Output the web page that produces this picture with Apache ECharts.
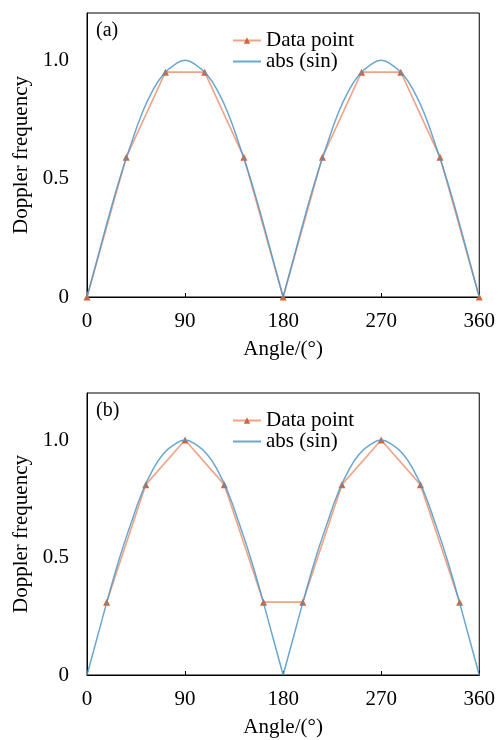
<!DOCTYPE html>
<html>
<head>
<meta charset="utf-8">
<script src="https://cdn.jsdelivr.net/npm/echarts@6/dist/echarts.min.js"></script>
<style>
  html, body { margin: 0; padding: 0; background: #fff; }
  #main { width: 498px; height: 740px; }
</style>
</head>
<body>
<div id="main"></div>
<script>
// 数据 (a) 测点
var angleA = [0, 36, 72, 108, 144, 180, 216, 252, 288, 324, 360];
var valueA = [0, 0.59, 0.95, 0.95, 0.59, 0, 0.59, 0.95, 0.95, 0.59, 0];
// 数据 (b) 测点
var angleB = [18, 54, 90, 126, 162, 198, 234, 270, 306, 342];
var valueB = [0.31, 0.81, 1.0, 0.81, 0.31, 0.31, 0.81, 1.0, 0.81, 0.31];
// abs(sin) 曲线, 每10度读一个值
var curveAngle = [0, 10, 20, 30, 40, 50, 60, 70, 80, 90, 100, 110, 120, 130, 140, 150, 160, 170, 180,
    190, 200, 210, 220, 230, 240, 250, 260, 270, 280, 290, 300, 310, 320, 330, 340, 350, 360];
var curveValue = [0, 0.17, 0.34, 0.5, 0.64, 0.77, 0.87, 0.94, 0.98, 1.0, 0.98, 0.94, 0.87, 0.77, 0.64, 0.5, 0.34, 0.17, 0,
    0.17, 0.34, 0.5, 0.64, 0.77, 0.87, 0.94, 0.98, 1.0, 0.98, 0.94, 0.87, 0.77, 0.64, 0.5, 0.34, 0.17, 0];
var xTicks = [0, 90, 180, 270, 360];

var FONT = "'Liberation Serif', 'Times New Roman', serif";
var orangeLine = '#f2a385';
var orangeMark = '#d4643c';
var blueLine = '#4f96c8';

function pairs(xs, ys) {
    return xs.map(function (x, i) {
        return [x, ys[i]];
    });
}

// 180度处断开, 让两个拱各自平滑, 尖点保持尖
function curvePairs() {
    var out = [];
    curveAngle.forEach(function (x, i) {
        out.push([x, curveValue[i]]);
        if (x === 180) {
            out.push([x, null]);
            out.push([x, curveValue[i]]);
        }
    });
    return out;
}

function makeX(idx) {
    return {
        type: 'value',
        gridIndex: idx,
        min: 0,
        max: 360,
        interval: 90,
        name: 'Angle/(°)',
        nameLocation: 'middle',
        nameGap: 42,
        nameTextStyle: {color: '#000', fontSize: 21, fontFamily: FONT},
        axisLine: {show: true, lineStyle: {color: '#000', width: 1}},
        axisTick: {show: true, inside: true, length: 4, lineStyle: {color: '#000'}},
        axisLabel: {color: '#000', fontSize: 21, fontFamily: FONT, margin: 14},
        splitLine: {show: false}
    };
}

function makeY(idx) {
    return {
        type: 'value',
        gridIndex: idx,
        min: 0,
        max: 1.2,
        interval: 0.5,
        name: 'Doppler frequency',
        nameLocation: 'middle',
        nameGap: 50,
        nameTextStyle: {color: '#000', fontSize: 21, fontFamily: FONT},
        axisLine: {show: true, lineStyle: {color: '#000', width: 1}},
        axisTick: {show: false},
        axisLabel: {
            color: '#000', fontSize: 21, fontFamily: FONT, margin: 18,
            showMaxLabel: false,
            formatter: function (v) {
                return v === 0 ? '0' : v.toFixed(1);
            }
        },
        splitLine: {show: false}
    };
}

function pointSeries(idx, xs, ys) {
    return {
        name: 'Data point',
        type: 'line',
        xAxisIndex: idx,
        yAxisIndex: idx,
        data: pairs(xs, ys),
        symbol: 'triangle',
        symbolSize: 7,
        clip: false,
        lineStyle: {color: orangeLine, width: 1.6},
        itemStyle: {color: orangeMark},
        z: 2
    };
}

function curveSeries(idx) {
    return {
        name: 'abs (sin)',
        type: 'line',
        xAxisIndex: idx,
        yAxisIndex: idx,
        data: curvePairs(),
        connectNulls: false,
        smooth: 0.5,
        showSymbol: false,
        symbol: 'none',
        lineStyle: {color: blueLine, width: 1.5, opacity: 0.85},
        itemStyle: {color: blueLine},
        z: 3
    };
}

function makeLegend(top) {
    return {
        orient: 'vertical',
        left: 232,
        top: top,
        itemWidth: 28,
        itemHeight: 8,
        itemGap: 0,
        padding: 0,
        textStyle: {color: '#000', fontSize: 21, fontFamily: FONT, lineHeight: 21, padding: [0, 0, 0, 0]},
        data: ['Data point', {name: 'abs (sin)', itemStyle: {opacity: 0}}]
    };
}

var chart = echarts.init(document.getElementById('main'));
chart.setOption({
    animation: false,
    backgroundColor: '#fff',
    title: [
        {text: '(a)', left: 96, top: 21, padding: 0, textStyle: {color: '#000', fontSize: 20, fontWeight: 'normal', fontFamily: FONT}},
        {text: '(b)', left: 96, top: 401, padding: 0, textStyle: {color: '#000', fontSize: 20, fontWeight: 'normal', fontFamily: FONT}}
    ],
    legend: [makeLegend(30), makeLegend(410)],
    grid: [
        {left: 87, right: 18, top: 13, height: 284, show: true, borderColor: '#000', borderWidth: 1},
        {left: 87, right: 18, top: 393, height: 282, show: true, borderColor: '#000', borderWidth: 1}
    ],
    xAxis: [makeX(0), makeX(1)],
    yAxis: [makeY(0), makeY(1)],
    series: [
        pointSeries(0, angleA, valueA),
        curveSeries(0),
        pointSeries(1, angleB, valueB),
        curveSeries(1)
    ]
});
</script>
</body>
</html>
